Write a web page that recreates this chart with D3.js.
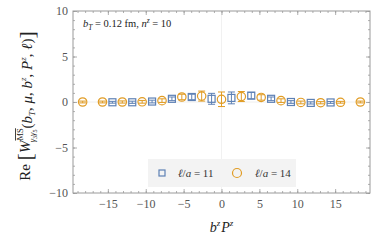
<!DOCTYPE html>
<html>
<head>
<meta charset="utf-8">
<script src="https://cdn.jsdelivr.net/npm/d3@7"></script>
<style>
  body { margin: 0; background: #fff; }
  svg text { font-family: "Liberation Serif", "DejaVu Serif", serif; }
</style>
</head>
<body>
<div id="chart"></div>
<script>
// step in b^z P^z per lattice unit: 2*pi*n^z / L with n^z = 10, L = 48
const step = 2 * Math.PI * 10 / 48;

// l/a = 11 (blue squares), odd b/a
const nBlue = [-11, -9, -7, -5, -3, -1, 1, 3, 5, 7, 9, 11];
const valBlue = [-0.03, -0.03, 0.05, 0.35, 0.55, 0.35, 0.45, 0.7, 0.35, 0.0, -0.1, -0.05];
const errBlue = [0.1, 0.12, 0.15, 0.2, 0.3, 0.6, 0.65, 0.35, 0.2, 0.15, 0.12, 0.1];

// l/a = 14 (orange circles), even b/a
const nOrange = [-14, -12, -10, -8, -6, -4, -2, 0, 2, 4, 6, 8, 10, 12, 14];
const valOrange = [0.0, 0.0, 0.0, 0.02, 0.15, 0.55, 0.65, 0.3, 0.6, 0.5, 0.15, -0.05, -0.08, -0.03, 0.0];
const errOrange = [0.1, 0.1, 0.12, 0.15, 0.2, 0.3, 0.55, 0.8, 0.55, 0.3, 0.2, 0.15, 0.12, 0.1, 0.1];

const xTicks = [-15, -10, -5, 0, 5, 10, 15];
const yTicks = [-10, -5, 0, 5, 10];

const blue = '#5E81B5';
const orange = '#E19C24';

const size = { width: 382, height: 243 };
const frame = { left: 73, right: 370, top: 11, bottom: 193 };

const svg = d3.select('#chart').append('svg')
  .attr('width', size.width).attr('height', size.height);

const x = d3.scaleLinear().domain([-19.6, 19.6]).range([frame.left, frame.right]);
const y = d3.scaleLinear().domain([-10, 10]).range([frame.bottom, frame.top]);

// faint grid at zero
svg.append('line').attr('x1', x(0)).attr('x2', x(0)).attr('y1', frame.top).attr('y2', frame.bottom)
  .attr('stroke', '#f1f1f1').attr('stroke-width', 1);
svg.append('line').attr('x1', frame.left).attr('x2', frame.right).attr('y1', y(0)).attr('y2', y(0))
  .attr('stroke', '#eeeeee').attr('stroke-width', 1);

// legend box
const leg = svg.append('g');
leg.append('rect').attr('x', 148).attr('y', 159).attr('width', 148).attr('height', 28).attr('fill', '#f3f3f3');
leg.append('rect').attr('x', 159).attr('y', 170).attr('width', 6).attr('height', 6)
  .attr('fill', 'none').attr('stroke', blue).attr('stroke-width', 1.2);
leg.append('circle').attr('cx', 237).attr('cy', 173).attr('r', 4.5)
  .attr('fill', 'none').attr('stroke', orange).attr('stroke-width', 1.2);
const legText = (tx, val) => {
  const t = leg.append('text').attr('x', tx).attr('y', 177).attr('font-size', 11).attr('fill', '#333');
  t.append('tspan').attr('font-style', 'italic').text('ℓ');
  t.append('tspan').text('/');
  t.append('tspan').attr('font-style', 'italic').text('a');
  t.append('tspan').text(' = ' + val);
};
legText(178, 11);
legText(255, 14);

// axes: frame with inward ticks on all sides
const axisColor = '#9a9a9a';
const minorX = d3.range(-19, 20, 1);
const minorY = d3.range(-10, 11, 1);
const axB = d3.axisBottom(x).tickValues(xTicks).tickSize(-4).tickPadding(6).tickFormat(d => d < 0 ? '−' + (-d) : d);
const axL = d3.axisLeft(y).tickValues(yTicks).tickSize(-4).tickPadding(5).tickFormat(d => d < 0 ? '−' + (-d) : d);

const drawMinor = (g, axisFn, vals) => g.call(axisFn.tickValues(vals).tickSize(-2).tickFormat(''));

svg.append('g').attr('transform', `translate(0,${frame.bottom})`).call(axB);
drawMinor(svg.append('g').attr('transform', `translate(0,${frame.bottom})`), d3.axisBottom(x), minorX);
drawMinor(svg.append('g').attr('transform', `translate(0,${frame.top})`), d3.axisTop(x), minorX);
svg.append('g').attr('transform', `translate(0,${frame.top})`)
  .call(d3.axisTop(x).tickValues(xTicks).tickSize(-4).tickFormat(''));
svg.append('g').attr('transform', `translate(${frame.left},0)`).call(axL);
drawMinor(svg.append('g').attr('transform', `translate(${frame.left},0)`), d3.axisLeft(y), minorY);
drawMinor(svg.append('g').attr('transform', `translate(${frame.right},0)`), d3.axisRight(y), minorY);
svg.append('g').attr('transform', `translate(${frame.right},0)`)
  .call(d3.axisRight(y).tickValues(yTicks).tickSize(-4).tickFormat(''));

svg.selectAll('.domain').attr('stroke', 'none');
svg.selectAll('.tick line').attr('stroke', axisColor).attr('stroke-width', 0.8);
svg.selectAll('.tick text').attr('fill', '#555').attr('font-size', 12);

svg.append('rect').attr('x', frame.left).attr('y', frame.top)
  .attr('width', frame.right - frame.left).attr('height', frame.bottom - frame.top)
  .attr('fill', 'none').attr('stroke', axisColor).attr('stroke-width', 1);

// data with error bars
const drawSeries = (ns, vals, errs, color, shape) => {
  const g = svg.append('g');
  const data = ns.map((n, i) => ({ bx: n * step, v: vals[i], e: errs[i] }));
  const pts = g.selectAll('g').data(data).enter().append('g');
  pts.append('line')
    .attr('x1', d => x(d.bx)).attr('x2', d => x(d.bx))
    .attr('y1', d => y(d.v - d.e)).attr('y2', d => y(d.v + d.e))
    .attr('stroke', color).attr('stroke-width', 1);
  [-1, 1].forEach(s => {
    pts.append('line')
      .attr('x1', d => x(d.bx) - 3.5).attr('x2', d => x(d.bx) + 3.5)
      .attr('y1', d => y(d.v + s * d.e)).attr('y2', d => y(d.v + s * d.e))
      .attr('stroke', color).attr('stroke-width', 1);
  });
  if (shape === 'square') {
    pts.append('rect')
      .attr('x', d => x(d.bx) - 3.5).attr('y', d => y(d.v) - 3.5)
      .attr('width', 7).attr('height', 7)
      .attr('fill', 'none').attr('stroke', color).attr('stroke-width', 1.2);
  } else {
    pts.append('circle')
      .attr('cx', d => x(d.bx)).attr('cy', d => y(d.v)).attr('r', 4.2)
      .attr('fill', 'none').attr('stroke', color).attr('stroke-width', 1.2);
  }
};
drawSeries(nBlue, valBlue, errBlue, blue, 'square');
drawSeries(nOrange, valOrange, errOrange, orange, 'circle');

// annotation
const ann = svg.append('text').attr('x', 83).attr('y', 27).attr('font-size', 10.5).attr('fill', '#222');
ann.append('tspan').attr('font-style', 'italic').text('b');
ann.append('tspan').attr('font-style', 'italic').attr('font-size', 7.5).attr('dy', 2.5).text('T');
ann.append('tspan').attr('dy', -2.5).text(' = 0.12 fm,  ');
ann.append('tspan').attr('font-style', 'italic').text('n');
ann.append('tspan').attr('font-style', 'italic').attr('font-size', 7.5).attr('dy', -4).text('z');
ann.append('tspan').attr('dy', 4).text(' = 10');

// x label
const xl = svg.append('text').attr('x', x(0)).attr('y', 232).attr('text-anchor', 'middle')
  .attr('font-size', 14).attr('fill', '#222');
xl.append('tspan').attr('font-style', 'italic').text('b');
xl.append('tspan').attr('font-style', 'italic').attr('font-size', 9).attr('dy', -6).text('z');
xl.append('tspan').attr('font-style', 'italic').attr('dx', 1).attr('dy', 6).text('P');
xl.append('tspan').attr('font-style', 'italic').attr('font-size', 9).attr('dy', -6).text('z');

// y label
const yl = svg.append('text').attr('transform', `translate(30,${(frame.top + frame.bottom) / 2 + 4}) rotate(-90)`)
  .attr('text-anchor', 'middle').attr('font-size', 15).attr('fill', '#222');
yl.append('tspan').text('Re ');
yl.append('tspan').attr('font-size', 22).attr('dy', 2).text('[');
yl.append('tspan').attr('font-style', 'italic').attr('dy', -2).text('W');
yl.append('tspan').attr('font-size', 8.5).attr('dy', -7).attr('text-decoration', 'overline').text('MS');
yl.append('tspan').attr('font-style', 'italic').attr('font-size', 8.5).attr('dx', -14).attr('dy', 12).text('γ');
yl.append('tspan').attr('font-size', 6).attr('dy', 2).text('3');
yl.append('tspan').attr('font-style', 'italic').attr('font-size', 8.5).attr('dy', -2).text('γ');
yl.append('tspan').attr('font-size', 6).attr('dy', 2).text('5');
yl.append('tspan').attr('dx', 1).attr('dy', -5).text('(');
yl.append('tspan').attr('font-style', 'italic').text('b');
yl.append('tspan').attr('font-style', 'italic').attr('font-size', 9).attr('dy', 3).text('T');
yl.append('tspan').attr('dy', -3).text(', ');
yl.append('tspan').attr('font-style', 'italic').text('μ');
yl.append('tspan').text(', ');
yl.append('tspan').attr('font-style', 'italic').text('b');
yl.append('tspan').attr('font-style', 'italic').attr('font-size', 9).attr('dy', -6).text('z');
yl.append('tspan').attr('dy', 6).text(', ');
yl.append('tspan').attr('font-style', 'italic').text('P');
yl.append('tspan').attr('font-style', 'italic').attr('font-size', 9).attr('dy', -6).text('z');
yl.append('tspan').attr('dy', 6).text(', ');
yl.append('tspan').attr('font-style', 'italic').text('ℓ');
yl.append('tspan').text(')');
yl.append('tspan').attr('font-size', 22).attr('dy', 2).text(']');
</script>
</body>
</html>
